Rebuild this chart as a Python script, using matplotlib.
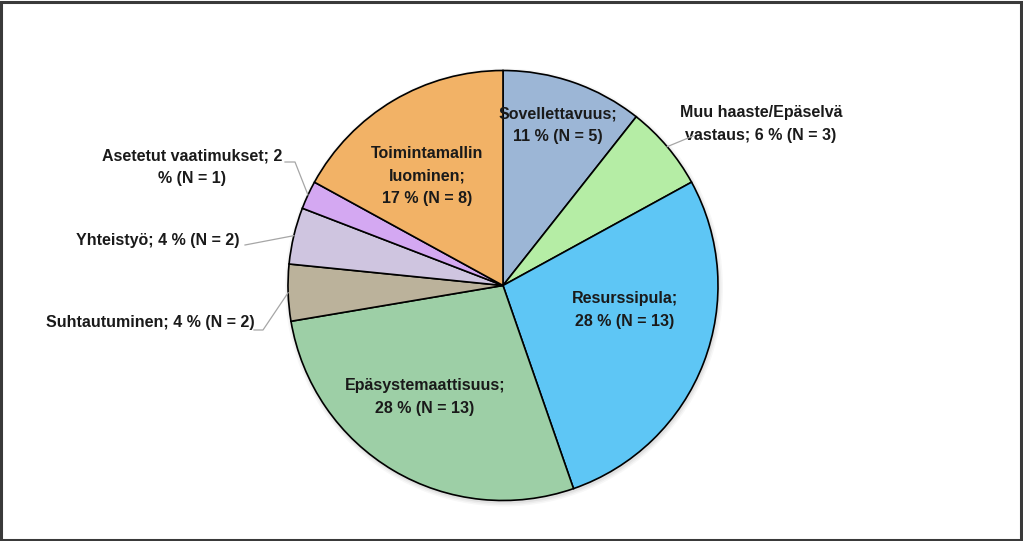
import numpy as np
import matplotlib
matplotlib.use("Agg")
import matplotlib.pyplot as plt
from matplotlib.patches import Rectangle

categories = ["Sovellettavuus", "Muu haaste/Epäselvä vastaus", "Resurssipula",
              "Epäsystemaattisuus", "Suhtautuminen", "Yhteistyö",
              "Asetetut vaatimukset", "Toimintamallin luominen"]
counts = [5, 3, 13, 13, 2, 2, 1, 8]
percents = [11, 6, 28, 28, 4, 4, 2, 17]
labels = ["Sovellettavuus;\n11 % (N = 5)",
          "Muu haaste/Epäselvä\nvastaus; 6 % (N = 3)",
          "Resurssipula;\n28 % (N = 13)",
          "Epäsystemaattisuus;\n28 % (N = 13)",
          "Suhtautuminen; 4 % (N = 2)",
          "Yhteistyö; 4 % (N = 2)",
          "Asetetut vaatimukset; 2\n% (N = 1)",
          "Toimintamallin\nluominen;\n17 % (N = 8)"]
colors = ["#9CB6D6", "#B5EDA5", "#5EC6F5", "#9DCFA6", "#BBB29B",
          "#CFC5E0", "#D4A8F2", "#F2B266"]

plt.rcParams['font.family'] = ['Liberation Sans Narrow', 'Liberation Sans', 'DejaVu Sans']

W, H = 1023, 541
fig = plt.figure(figsize=(W / 100, H / 100), dpi=100)
ax = fig.add_axes([0, 0, 1, 1])
ax.set_xlim(0, W)
ax.set_ylim(0, H)
ax.axis('off')

cx, cy, R = 503, H - 285.5, 215

# subtle shadow
for i, a in enumerate([0.05, 0.04, 0.03]):
    sh = plt.Circle((cx + 1, cy - 2), R + 1 + i * 1.5, color='black', alpha=a, lw=0, zorder=0)
    ax.add_patch(sh)

wedges, _ = ax.pie(counts, colors=colors, startangle=90, counterclock=False,
                   center=(cx, cy), radius=R, frame=True,
                   wedgeprops=dict(edgecolor='black', linewidth=1.2))
ax.set_xlim(0, W)
ax.set_ylim(0, H)
ax.set_aspect('auto')
ax.axis('off')

fs = 11.5
txt = dict(fontsize=fs, fontweight='bold', color='#1a1a1a', linespacing=1.65)

# inside labels (pixel positions, top-origin)
inside = {0: (558, 125), 2: (625, 310), 3: (425, 397), 7: (427, 176)}
for i, (x, y) in inside.items():
    ax.text(x, H - y, labels[i], ha='center', va='center', **txt)

def edge_point(w, frac=0.5, r=R):
    th = np.deg2rad(w.theta1 + (w.theta2 - w.theta1) * frac)
    return cx + r * np.cos(th), cy + r * np.sin(th)

lc = dict(color='#a6a6a6', lw=0.9, zorder=5)

# Muu haaste
ax.text(761, H - 124, labels[1], ha='center', va='center', **txt)
ex, ey = edge_point(wedges[1], 0.5)
ax.plot([ex, 693], [ey, H - 136], **lc)

# Suhtautuminen
ax.text(255, H - 322, labels[4], ha='right', va='center', **txt)
ex, ey = edge_point(wedges[4], 0.5)
ax.plot([ex, 263, 254], [ey, H - 330, H - 330], **lc)

# Yhteistyö
ax.text(240, H - 240, labels[5], ha='right', va='center', **txt)
ex, ey = edge_point(wedges[5], 0.5)
ax.plot([ex, 245], [ey, H - 245], **lc)

# Asetetut vaatimukset
ax.text(192, H - 167, labels[6], ha='center', va='center', **txt)
ex, ey = edge_point(wedges[6], 0.5)
ax.plot([ex, 295, 285], [ey, H - 162, H - 162], **lc)

fig.add_artist(Rectangle((0.001, 0.002), 0.997, 0.995, transform=fig.transFigure,
                         fill=False, edgecolor='#3a3a3a', linewidth=2.2))

fig.savefig("out.png", dpi=100)
